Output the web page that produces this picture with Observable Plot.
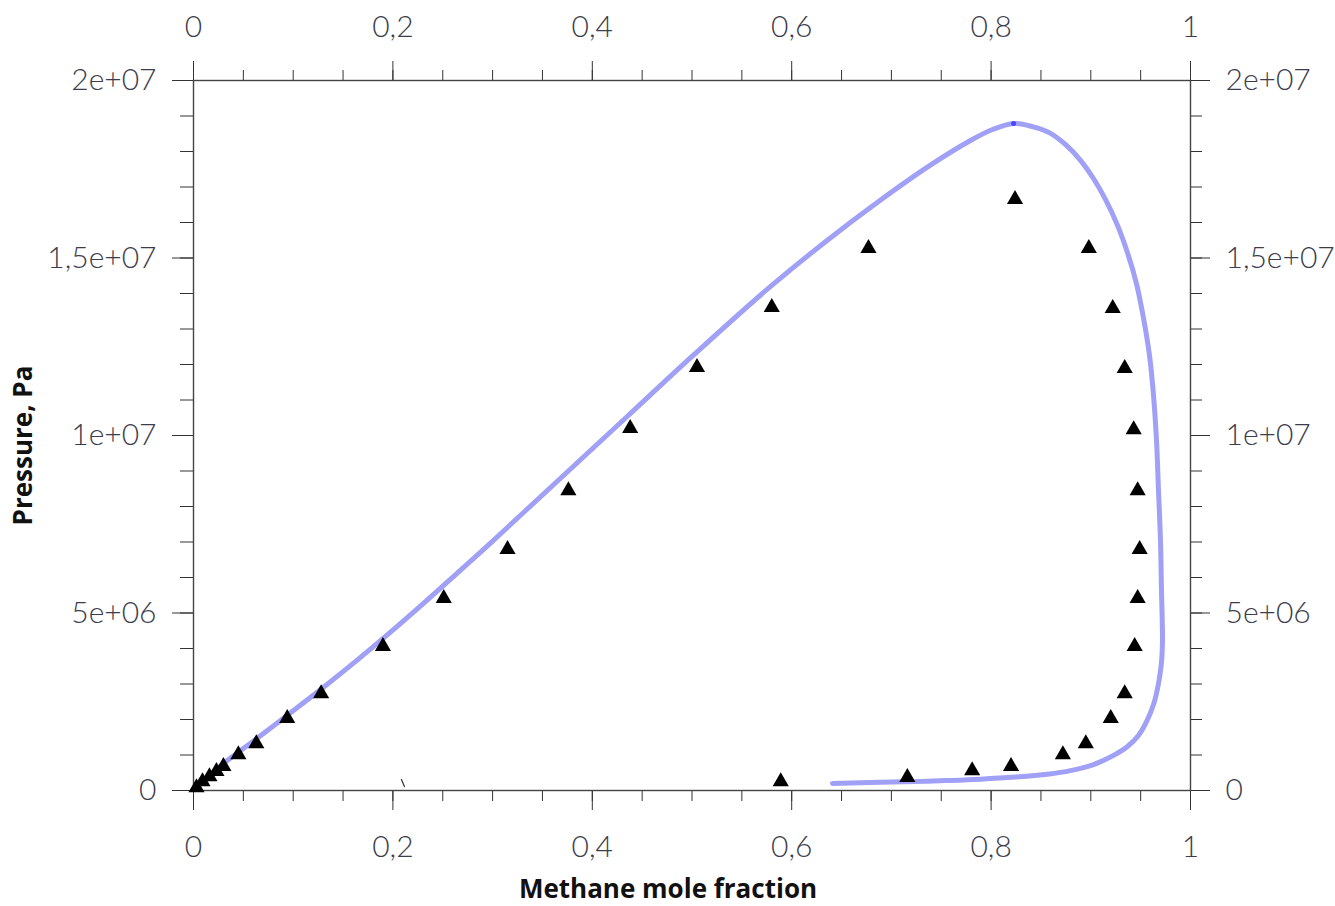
<!DOCTYPE html>
<html>
<head>
<meta charset="utf-8">
<script src="https://cdn.jsdelivr.net/npm/d3@7"></script>
<script src="https://cdn.jsdelivr.net/npm/@observablehq/plot@0.6"></script>
<style>
  html, body { margin: 0; padding: 0; background: #fff; }
  #chart svg { display: block; }
</style>
</head>
<body>
<div id="chart"></div>
<script>
// ---- Data ----
// Calculated phase envelope (methane mole fraction vs pressure, Pa)
const curveX = [0.0030, 0.0301, 0.0642, 0.0973, 0.1304, 0.1645, 0.1976, 0.2307, 0.2648, 0.2979, 0.3310,
  0.3741, 0.4363, 0.5025, 0.5747, 0.6339, 0.6861, 0.7372, 0.7793, 0.8014, 0.8225,
  0.8415, 0.8596, 0.8756, 0.8897, 0.9027, 0.9147, 0.9268, 0.9368, 0.9458, 0.9529, 0.9589, 0.9629,
  0.9659, 0.9679, 0.9699, 0.9709, 0.9719, 0.9709, 0.9679, 0.9629, 0.9559, 0.9478, 0.9368, 0.9228,
  0.9027, 0.8796, 0.8566, 0.8245, 0.7894, 0.7543, 0.7222, 0.6891, 0.6409];
const curveP = [0.085e6, 0.76e6, 1.48e6, 2.19e6, 2.91e6, 3.68e6, 4.46e6, 5.27e6, 6.13e6, 6.97e6, 7.83e6,
  8.95e6, 10.57e6, 12.29e6, 14.10e6, 15.46e6, 16.57e6, 17.58e6, 18.31e6, 18.62e6, 18.79e6,
  18.70e6, 18.51e6, 18.17e6, 17.75e6, 17.24e6, 16.65e6, 15.92e6, 15.15e6, 14.28e6, 13.30e6, 12.25e6, 11.13e6,
  9.86e6, 8.45e6, 7.04e6, 5.63e6, 4.23e6, 3.61e6, 3.01e6, 2.42e6, 1.94e6, 1.55e6, 1.24e6, 0.99e6,
  0.73e6, 0.56e6, 0.46e6, 0.38e6, 0.32e6, 0.28e6, 0.25e6, 0.23e6, 0.20e6];

// Critical point marker
const criticalX = [0.8225];
const criticalP = [18.79e6];

// Experimental points
const expX = [0.003, 0.009, 0.016, 0.023, 0.030, 0.045, 0.063, 0.094, 0.128, 0.190, 0.251, 0.315,
  0.376, 0.438, 0.505, 0.580, 0.677, 0.824,
  0.898, 0.922, 0.934, 0.943, 0.947, 0.949, 0.947, 0.944, 0.934, 0.920, 0.895, 0.872,
  0.820, 0.781, 0.716, 0.589];
const expP = [0.08e6, 0.25e6, 0.39e6, 0.54e6, 0.68e6, 1.01e6, 1.32e6, 2.03e6, 2.73e6, 4.06e6, 5.41e6, 6.79e6,
  8.45e6, 10.20e6, 11.92e6, 13.61e6, 15.27e6, 16.65e6,
  15.27e6, 13.58e6, 11.89e6, 10.17e6, 8.45e6, 6.79e6, 5.41e6, 4.06e6, 2.73e6, 2.03e6, 1.32e6, 1.01e6,
  0.68e6, 0.56e6, 0.37e6, 0.25e6];

// Small stray stroke near the axis
const strayX = [0.2086, 0.2116];
const strayP = [0.31e6, 0.11e6];

// Ticks
const xMajor = [0, 0.2, 0.4, 0.6, 0.8, 1];
const xMajorLabels = ["0", "0,2", "0,4", "0,6", "0,8", "1"];
const xMinor = d3.range(0, 21).map(i => i / 20);
const yMajor = [0, 5e6, 1e7, 1.5e7, 2e7];
const yMajorLabels = ["0", "5e+06", "1e+07", "1,5e+07", "2e+07"];
const yMinor = d3.range(0, 21).map(i => i * 1e6);

const xTitle = "Methane mole fraction";
const yTitle = "Pressure, Pa";

// ---- Build tables ----
const curve = curveX.map((x, i) => ({x, p: curveP[i]}));
const critical = criticalX.map((x, i) => ({x, p: criticalP[i]}));
const exp = expX.map((x, i) => ({x, p: expP[i]}));
const stray = strayX.map((x, i) => ({x, p: strayP[i]}));

const xFmt = d => xMajorLabels[xMajor.indexOf(d)] ?? "";
const yFmt = d => yMajorLabels[yMajor.indexOf(d)] ?? "";

const tickFont = {fontSize: 30, fontFamily: "Lato, 'Open Sans', sans-serif", fontWeight: 300, fill: "#3c3c4c"};
const tickStroke = "#333";

const chart = Plot.plot({
  width: 1335,
  height: 906,
  marginLeft: 193,
  marginRight: 145,
  marginTop: 80,
  marginBottom: 116,
  style: {background: "#fff", fontFamily: "Lato, 'Open Sans', sans-serif"},
  x: {domain: [0, 1]},
  y: {domain: [0, 2e7]},
  marks: [
    // minor ticks
    Plot.axisX({anchor: "bottom", ticks: xMinor, tickSize: 11, tickFormat: () => "", label: null, stroke: tickStroke}),
    Plot.axisX({anchor: "top", ticks: xMinor, tickSize: 11, tickFormat: () => "", label: null, stroke: tickStroke}),
    Plot.axisY({anchor: "left", ticks: yMinor, tickSize: 13, tickFormat: () => "", label: null, stroke: tickStroke}),
    Plot.axisY({anchor: "right", ticks: yMinor, tickSize: 11, tickFormat: () => "", label: null, stroke: tickStroke}),
    // major ticks with labels
    Plot.axisX({anchor: "bottom", ticks: xMajor, tickSize: 20, tickPadding: 25, tickFormat: xFmt, label: null, stroke: tickStroke, ...tickFont}),
    Plot.axisX({anchor: "top", ticks: xMajor, tickSize: 20, tickPadding: 24, tickFormat: xFmt, label: null, stroke: tickStroke, ...tickFont}),
    Plot.axisY({anchor: "left", ticks: yMajor, tickSize: 21, tickPadding: 16, tickFormat: yFmt, label: null, stroke: tickStroke, ...tickFont}),
    Plot.axisY({anchor: "right", ticks: yMajor, tickSize: 19, tickPadding: 16, tickFormat: yFmt, label: null, stroke: tickStroke, ...tickFont}),
    Plot.frame({stroke: "#444", strokeWidth: 1.4}),
    // curve
    Plot.line(curve, {x: "x", y: "p", stroke: "#a0a0f6", strokeWidth: 5, curve: "catmull-rom"}),
    Plot.dot(critical, {x: "x", y: "p", r: 2.5, fill: "#4646ff"}),
    Plot.line(stray, {x: "x", y: "p", stroke: "#333", strokeWidth: 1.2}),
    // experimental triangles
    Plot.dot(exp, {x: "x", y: "p", symbol: "triangle", r: 6, fill: "black", stroke: "none"}),
    // titles
    Plot.text([xTitle], {frameAnchor: "bottom", dx: -24, dy: 99, lineAnchor: "middle", textAnchor: "middle",
      fontSize: 26, fontWeight: "bold", fontFamily: "'Open Sans', sans-serif", fill: "#111"}),
    Plot.text([yTitle], {frameAnchor: "left", dx: -170, dy: 10, rotate: -90, lineAnchor: "middle", textAnchor: "middle",
      fontSize: 26, fontWeight: "bold", fontFamily: "'Open Sans', sans-serif", fill: "#111"})
  ]
});
document.getElementById("chart").appendChild(chart);
</script>
</body>
</html>
